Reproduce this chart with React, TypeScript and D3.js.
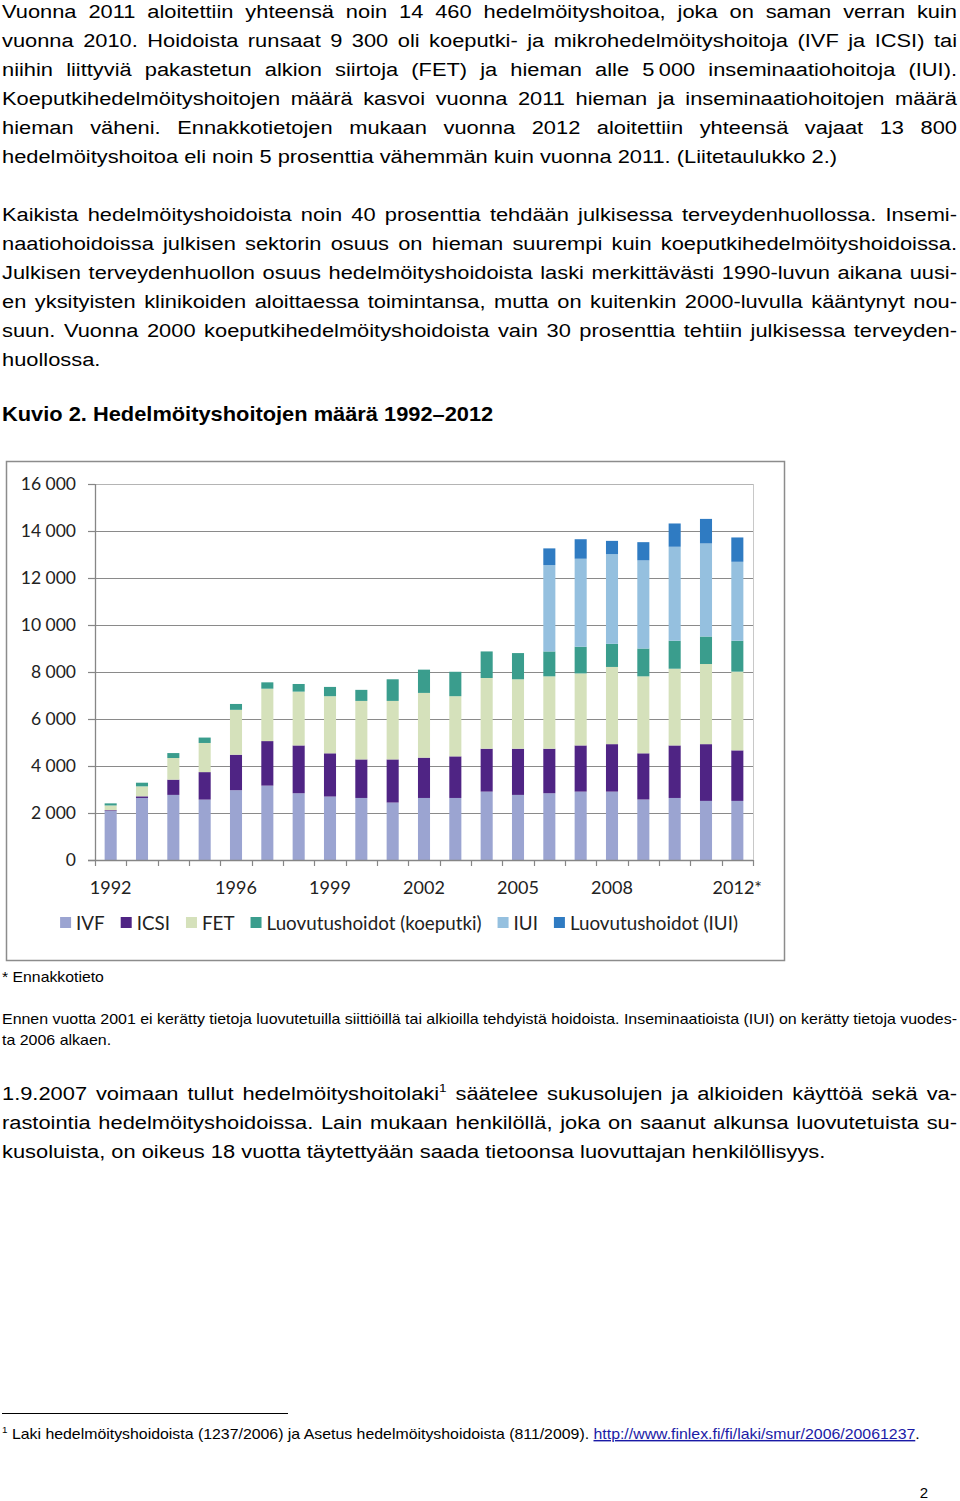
import React, { useEffect, useRef } from "react";
import * as d3 from "d3";

const W = 960;
const H = 1501;
const bodyFont = "'Liberation Sans', Arial, Helvetica, sans-serif";
const chartFont = "Lato, 'Open Sans', sans-serif";

// ---------- chart data ----------
const years = ["1992","1993","1994","1995","1996","1997","1998","1999","2000","2001","2002","2003","2004","2005","2006","2007","2008","2009","2010","2011","2012"];
const tickLabels = ["1992","","","","1996","","","1999","","","2002","","","2005","","","2008","","","","2012*"];
const ivf = [2090, 2640, 2770, 2570, 2970, 3165, 2840, 2700, 2640, 2445, 2640, 2640, 2910, 2770, 2840, 2910, 2910, 2575, 2640, 2515, 2515];
const icsi = [30, 70, 650, 1170, 1510, 1895, 2035, 1840, 1640, 1835, 1715, 1770, 1825, 1965, 1895, 1965, 2020, 1965, 2235, 2415, 2150];
const fet = [200, 424, 920, 1240, 1910, 2230, 2290, 2430, 2490, 2490, 2755, 2560, 3010, 2955, 3080, 3065, 3285, 3275, 3265, 3410, 3350];
const donorIvf = [90, 155, 210, 230, 250, 270, 325, 395, 470, 920, 990, 1040, 1130, 1115, 1060, 1135, 985, 1185, 1190, 1170, 1315];
const iui = [0, 0, 0, 0, 0, 0, 0, 0, 0, 0, 0, 0, 0, 0, 3675, 3745, 3815, 3750, 4000, 3960, 3360];
const donorIui = [0, 0, 0, 0, 0, 0, 0, 0, 0, 0, 0, 0, 0, 0, 710, 830, 565, 775, 990, 1045, 1035];
const seriesNames = ["IVF", "ICSI", "FET", "Luovutushoidot (koeputki)", "IUI", "Luovutushoidot (IUI)"];
const seriesColors = ["#9ba4d1", "#4f2484", "#d5e1bb", "#3a9d8d", "#95c0df", "#2f7bc2"];
const yTicks = [0, 2000, 4000, 6000, 8000, 10000, 12000, 14000, 16000];

// ---------- page text ----------
const para1 = [
  "Vuonna 2011 aloitettiin yhteensä noin 14 460 hedelmöityshoitoa, joka on saman verran kuin",
  "vuonna 2010. Hoidoista runsaat 9 300 oli koeputki- ja mikrohedelmöityshoitoja (IVF ja ICSI) tai",
  "niihin liittyviä pakastetun alkion siirtoja (FET) ja hieman alle 5\u2009000 inseminaatiohoitoja (IUI).",
  "Koeputkihedelmöityshoitojen määrä kasvoi vuonna 2011 hieman ja inseminaatiohoitojen määrä",
  "hieman väheni. Ennakkotietojen mukaan vuonna 2012 aloitettiin yhteensä vajaat 13 800",
  "hedelmöityshoitoa eli noin 5 prosenttia vähemmän kuin vuonna 2011. (Liitetaulukko 2.)",
];
const para2 = [
  "Kaikista hedelmöityshoidoista noin 40 prosenttia tehdään julkisessa terveydenhuollossa. Insemi-",
  "naatiohoidoissa julkisen sektorin osuus on hieman suurempi kuin koeputkihedelmöityshoidoissa.",
  "Julkisen terveydenhuollon osuus hedelmöityshoidoista laski merkittävästi 1990-luvun aikana uusi-",
  "en yksityisten klinikoiden aloittaessa toimintansa, mutta on kuitenkin 2000-luvulla kääntynyt nou-",
  "suun. Vuonna 2000 koeputkihedelmöityshoidoista vain 30 prosenttia tehtiin julkisessa terveyden-",
  "huollossa.",
];
const figTitle = "Kuvio 2. Hedelmöityshoitojen määrä 1992–2012";
const starNote = "* Ennakkotieto";
const notePara = [
  "Ennen vuotta 2001 ei kerätty tietoja luovutetuilla siittiöillä tai alkioilla tehdyistä hoidoista. Inseminaatioista (IUI) on kerätty tietoja vuodes-",
  "ta 2006 alkaen.",
];
const para3 = [
  "1.9.2007 voimaan tullut hedelmöityshoitolaki^1 säätelee sukusolujen ja alkioiden käyttöä sekä va-",
  "rastointia hedelmöityshoidoissa. Lain mukaan henkilöllä, joka on saanut alkunsa luovutetuista su-",
  "kusoluista, on oikeus 18 vuotta täytettyään saada tietoonsa luovuttajan henkilöllisyys.",
];
const footText = "Laki hedelmöityshoidoista (1237/2006) ja Asetus hedelmöityshoidoista (811/2009). ";
const footLink = "http://www.finlex.fi/fi/laki/smur/2006/20061237";
const pageNo = "2";

type Sel = d3.Selection<SVGGElement, unknown, null, undefined>;

function addLine(parent: Sel, str: string, x: number, y: number, size: number, sx: number, justifyWidth: number | null, weight = "normal") {
  const t = parent
    .append("text")
    .attr("transform", `translate(${x},${y}) scale(${sx},1)`)
    .attr("x", 0)
    .attr("y", 0)
    .attr("font-size", size)
    .attr("font-family", bodyFont)
    .attr("font-weight", weight)
    .attr("fill", "#000")
    .style("white-space", "pre");
  const parts = str.split("^1");
  parts.forEach((p, i) => {
    if (i > 0) {
      t.append("tspan").attr("font-size", size * 0.62).attr("dy", -size * 0.42).text("1");
      t.append("tspan").attr("dy", size * 0.42).text(p);
    } else {
      t.append("tspan").text(p);
    }
  });
  if (justifyWidth) {
    const len = (t.node() as SVGTextElement).getComputedTextLength();
    const n = (str.match(/ /g) || []).length;
    if (n > 0) t.style("word-spacing", `${(justifyWidth / sx - len) / n}px`);
  }
  return t;
}

function addParagraph(parent: Sel, lines: string[], x: number, y0: number, lh: number, size: number, sx: number, width: number) {
  lines.forEach((ln, i) => {
    addLine(parent, ln, x, y0 + i * lh, size, sx, i < lines.length - 1 ? width : null);
  });
}

export default function App() {
  const ref = useRef<SVGSVGElement>(null);

  useEffect(() => {
    const svg = d3.select(ref.current as SVGSVGElement);
    svg.selectAll("*").remove();
    const root = svg.append("g") as unknown as Sel;

    // ---------- text above ----------
    addParagraph(root, para1, 2, 18, 28.9, 19, 1.15, 955);
    addParagraph(root, para2, 2, 221, 28.9, 19, 1.15, 955);
    addLine(root, figTitle, 2, 421, 19.5, 1.12, null, "bold");

    // ---------- chart ----------
    const frame = { x: 6, y: 461, w: 778, h: 499 };
    const plot = { left: 95, right: 753, top: 484, bottom: 860 };
    const g = root.append("g");
    g.append("rect")
      .attr("x", frame.x + 0.5)
      .attr("y", frame.y + 0.5)
      .attr("width", frame.w)
      .attr("height", frame.h)
      .attr("fill", "#fff")
      .attr("stroke", "#8c8c8c")
      .attr("stroke-width", 1.5);

    const x = d3.scaleBand<string>().domain(years).range([plot.left, plot.right]).paddingInner(0.615).paddingOuter(0.3075);
    const y = d3.scaleLinear().domain([0, 16000]).range([plot.bottom, plot.top]);
    const locale = d3.formatLocale({ decimal: ",", thousands: " ", grouping: [3], currency: ["", "€"] });
    const fmt = locale.format(",d");

    // plot border (light)
    g.append("line").attr("x1", plot.right + 0.5).attr("x2", plot.right + 0.5).attr("y1", plot.top).attr("y2", plot.bottom).attr("stroke", "#c8c8c8");

    // gridlines
    g.selectAll("line.grid")
      .data(yTicks.filter((d) => d > 0))
      .join("line")
      .attr("class", "grid")
      .attr("x1", plot.left)
      .attr("x2", plot.right)
      .attr("y1", (d) => Math.round(y(d)) + 0.5)
      .attr("y2", (d) => Math.round(y(d)) + 0.5)
      .attr("stroke", (d) => (d === 16000 ? "#b4b4b4" : "#8a8a8a"))
      .attr("stroke-width", 1.2);

    // bars
    const table = years.map((yr, i) => ({
      year: yr,
      [seriesNames[0]]: ivf[i],
      [seriesNames[1]]: icsi[i],
      [seriesNames[2]]: fet[i],
      [seriesNames[3]]: donorIvf[i],
      [seriesNames[4]]: iui[i],
      [seriesNames[5]]: donorIui[i],
    }));
    const stack = d3.stack<any>().keys(seriesNames);
    const layers = stack(table);
    layers.forEach((layer, li) => {
      g.append("g")
        .attr("fill", seriesColors[li])
        .selectAll("rect")
        .data(layer)
        .join("rect")
        .attr("x", (d: any) => x(d.data.year) as number)
        .attr("width", x.bandwidth())
        .attr("y", (d: any) => y(d[1]))
        .attr("height", (d: any) => Math.max(0, y(d[0]) - y(d[1])));
    });

    // y axis
    const axisColor = "#868686";
    g.append("line").attr("x1", plot.left + 0.5).attr("x2", plot.left + 0.5).attr("y1", plot.top).attr("y2", plot.bottom).attr("stroke", axisColor).attr("stroke-width", 1.3);
    g.selectAll("line.ytick")
      .data(yTicks)
      .join("line")
      .attr("class", "ytick")
      .attr("x1", plot.left - 7)
      .attr("x2", plot.left)
      .attr("y1", (d) => Math.round(y(d)) + 0.5)
      .attr("y2", (d) => Math.round(y(d)) + 0.5)
      .attr("stroke", axisColor)
      .attr("stroke-width", 1.2);
    g.selectAll("text.ylab")
      .data(yTicks)
      .join("text")
      .attr("class", "ylab")
      .attr("x", 76)
      .attr("y", (d) => y(d))
      .attr("dy", "0.36em")
      .attr("text-anchor", "end")
      .attr("font-family", chartFont)
      .attr("font-size", 17.5)
      .attr("fill", "#222")
      .style("white-space", "pre")
      .text((d) => fmt(d));

    // x axis
    g.append("line").attr("x1", plot.left - 7).attr("x2", plot.right).attr("y1", plot.bottom + 0.5).attr("y2", plot.bottom + 0.5).attr("stroke", axisColor).attr("stroke-width", 1.3);
    const step = x.step();
    const bounds = d3.range(years.length + 1).map((i) => plot.left + i * step);
    g.selectAll("line.xtick")
      .data(bounds)
      .join("line")
      .attr("class", "xtick")
      .attr("x1", (d) => Math.round(d) + 0.5)
      .attr("x2", (d) => Math.round(d) + 0.5)
      .attr("y1", plot.bottom)
      .attr("y2", plot.bottom + 6)
      .attr("stroke", axisColor)
      .attr("stroke-width", 1.2);
    g.selectAll("text.xlab")
      .data(years)
      .join("text")
      .attr("class", "xlab")
      .attr("x", (d) => (x(d) as number) + x.bandwidth() / 2)
      .attr("y", 894)
      .attr("text-anchor", "middle")
      .attr("font-family", chartFont)
      .attr("font-size", 18)
      .attr("fill", "#222")
      .text((d, i) => tickLabels[i]);

    // legend
    const lg = g.append("g");
    const sw = 11;
    const gapSwatch = 5;
    const gapItem = 16;
    let cx = 0;
    seriesNames.forEach((name, i) => {
      const t = lg
        .append("text")
        .attr("y", 923)
        .attr("dy", "0.36em")
        .attr("font-family", chartFont)
        .attr("font-size", 18.8)
        .attr("fill", "#222")
        .text(name);
      const wlen = (t.node() as SVGTextElement).getComputedTextLength();
      t.attr("x", cx + sw + gapSwatch);
      lg.append("rect").attr("x", cx).attr("y", 923 - sw / 2 - 0.5).attr("width", sw).attr("height", sw).attr("fill", seriesColors[i]);
      cx += sw + gapSwatch + wlen + gapItem;
    });
    const totalW = cx - gapItem;
    lg.attr("transform", `translate(${399 - totalW / 2},0)`);

    // ---------- text below ----------
    addLine(root, starNote, 2, 982, 14, 1.13, null);
    addParagraph(root, notePara, 2, 1024, 21, 14, 1.14, 955);
    addParagraph(root, para3, 2, 1100, 29, 19, 1.15, 955);

    // footnote rule and text
    root.append("line").attr("x1", 2).attr("x2", 288).attr("y1", 1413.5).attr("y2", 1413.5).attr("stroke", "#000").attr("stroke-width", 1);
    const ft = root
      .append("text")
      .attr("transform", "translate(2,1439) scale(1.095,1)")
      .attr("x", 0)
      .attr("y", 0)
      .attr("font-family", bodyFont)
      .attr("font-size", 14.5)
      .attr("fill", "#000")
      .style("white-space", "pre");
    ft.append("tspan").attr("font-size", 9).attr("dy", -6).text("1");
    ft.append("tspan").attr("dy", 6).text(" " + footText);
    ft.append("tspan").attr("fill", "#1a1aa6").style("text-decoration", "underline").text(footLink);
    ft.append("tspan").text(".");

    root.append("text").attr("x", 928).attr("y", 1498).attr("text-anchor", "end").attr("font-family", bodyFont).attr("font-size", 15).attr("fill", "#000").text(pageNo);
  }, []);

  return (
    <svg
      ref={ref}
      width={W}
      height={H}
      viewBox={`0 0 ${W} ${H}`}
      style={{ position: "absolute", left: 0, top: 0, display: "block", background: "#fff" }}
    />
  );
}
